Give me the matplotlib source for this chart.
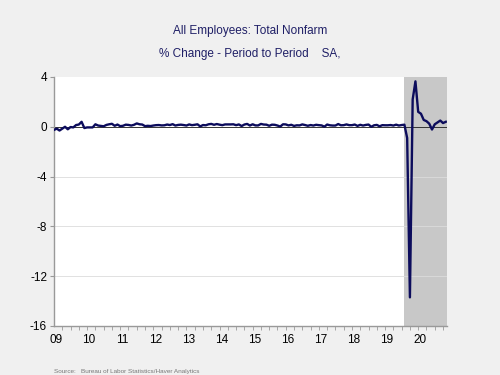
import matplotlib
matplotlib.use("Agg")
from matplotlib import pyplot as plt
import numpy as np

# monthly % change, Jul 2009 - May 2021
start_year = 2009
start_month = 7
pct_change = [
    -0.25, -0.15, -0.30, -0.15, 0.00, -0.20,                                   # 2009 H2
    -0.02, -0.05, 0.14, 0.18, 0.40, -0.10, -0.05, -0.05, -0.05, 0.20, 0.10, 0.07,  # 2010
    0.04, 0.15, 0.20, 0.24, 0.08, 0.18, 0.05, 0.08, 0.17, 0.15, 0.10, 0.16,    # 2011
    0.27, 0.20, 0.18, 0.05, 0.08, 0.06, 0.10, 0.13, 0.14, 0.11, 0.12, 0.18,    # 2012
    0.14, 0.21, 0.10, 0.15, 0.17, 0.14, 0.10, 0.19, 0.13, 0.16, 0.20, 0.03,    # 2013
    0.14, 0.12, 0.20, 0.23, 0.16, 0.22, 0.17, 0.13, 0.19, 0.19, 0.19, 0.20,    # 2014
    0.13, 0.19, 0.06, 0.18, 0.23, 0.10, 0.20, 0.11, 0.11, 0.23, 0.18, 0.17,    # 2015
    0.08, 0.17, 0.16, 0.10, 0.02, 0.20, 0.19, 0.11, 0.16, 0.07, 0.12, 0.11,    # 2016
    0.19, 0.14, 0.08, 0.14, 0.10, 0.16, 0.13, 0.11, 0.01, 0.18, 0.12, 0.10,    # 2017
    0.10, 0.22, 0.12, 0.13, 0.19, 0.13, 0.13, 0.18, 0.07, 0.16, 0.10, 0.15,    # 2018
    0.18, 0.00, 0.12, 0.15, 0.04, 0.13, 0.12, 0.12, 0.14, 0.10, 0.17, 0.10,    # 2019
    0.14, 0.17, -0.90, -13.70, 2.20, 3.65, 1.20, 1.05, 0.55, 0.45, 0.25, -0.22,  # 2020
    0.20, 0.35, 0.50, 0.30, 0.40,                                              # 2021
]
year_labels = ["09", "10", "11", "12", "13", "14", "15", "16", "17", "18", "19", "20"]
y_ticks = [4, 0, -4, -8, -12, -16]
recession_start = 2020 + 1 / 12

xs = start_year + (start_month - 1) / 12 + np.arange(len(pct_change)) / 12

plt.rcParams['font.family'] = ['Liberation Sans', 'DejaVu Sans']

fig = plt.figure(figsize=(5, 3.75), dpi=100, facecolor='#f0f0f0')
ax = fig.add_axes([0.108, 0.1307, 0.786, 0.664])
ax.set_facecolor('white')

x0, x1 = 2009.5, 2021.37
ax.axvspan(recession_start, x1, color='#c8c8c8', lw=0, zorder=0)
for yv in [-4, -8, -12]:
    ax.axhline(yv, color='#dcdcdc', lw=0.6, zorder=1)
ax.axhline(0, color='#333333', lw=0.7, zorder=2)

ax.plot(xs, pct_change, color='#0c0c5c', lw=1.7, zorder=3)

ax.set_xlim(x0, x1)
ax.set_ylim(-16, 4)

for s in ['top', 'right']:
    ax.spines[s].set_visible(False)
for s in ['left', 'bottom']:
    ax.spines[s].set_color('#999999')
    ax.spines[s].set_linewidth(1.0)

ax.set_yticks(y_ticks)
ax.set_yticklabels([str(v) for v in y_ticks])
ax.tick_params(axis='y', length=3, color='#999999', labelsize=8.5, pad=2)

ax.set_xticks([2009.56 + i for i in range(len(year_labels))])
ax.set_xticklabels(year_labels)
ax.tick_params(axis='x', which='major', length=0, labelsize=8.5, pad=6)
ax.set_xticks(np.arange(2009.75, 2021.4, 0.25), minor=True)
ax.tick_params(axis='x', which='minor', length=3, color='#999999')

fig.text(0.5, 0.917, 'All Employees: Total Nonfarm', ha='center', va='center',
         fontsize=8.5, color='#1f1f66')
fig.text(0.5, 0.856, '% Change - Period to Period    SA,', ha='center', va='center',
         fontsize=8.5, color='#1f1f66')
fig.text(0.108, 0.003, 'Source:   Bureau of Labor Statistics/Haver Analytics', ha='left',
         va='bottom', fontsize=4.6, color='#777777')

fig.savefig('out.png', dpi=100, facecolor=fig.get_facecolor())
